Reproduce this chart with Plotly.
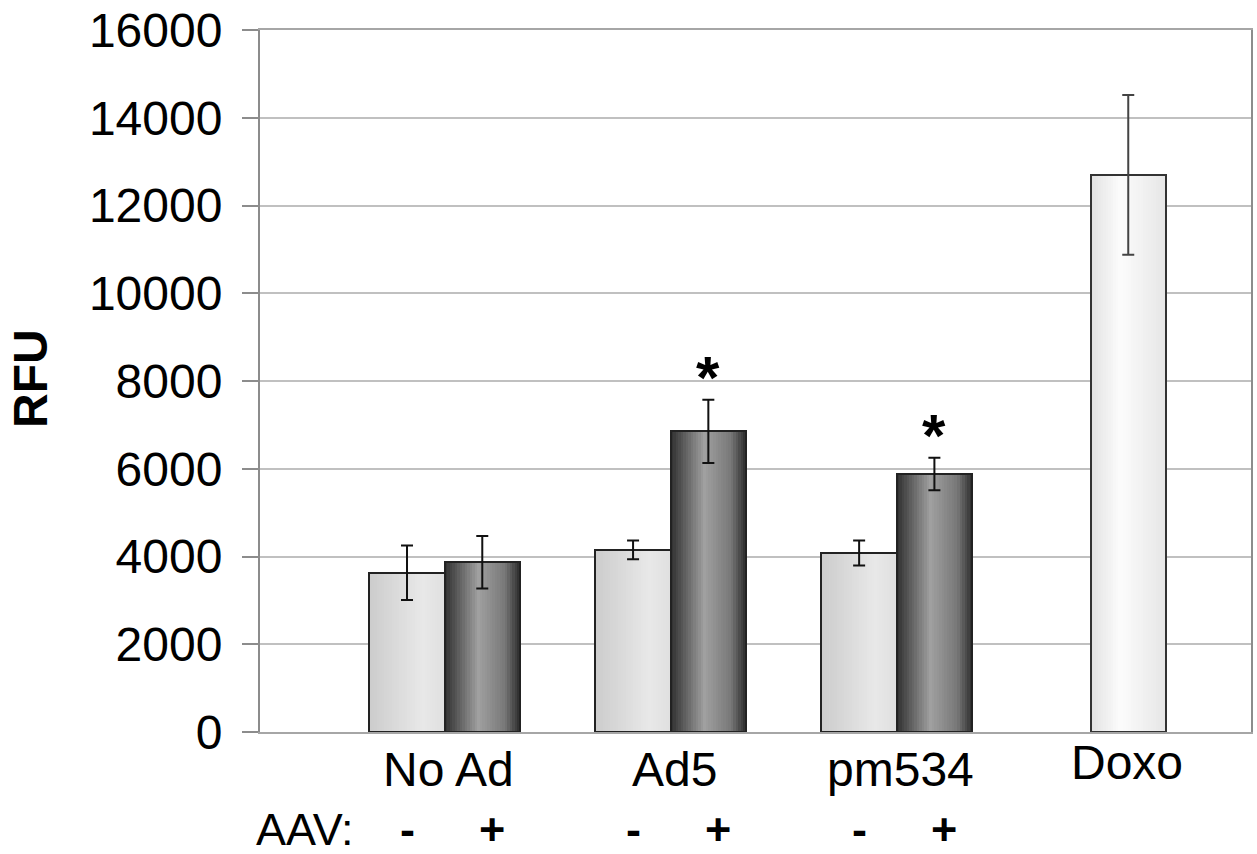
import plotly.graph_objects as go

# ---- data ----
groups = ["No Ad", "Ad5", "pm534"]
aav_minus = [3630, 4150, 4080]
aav_minus_err = [620, 215, 285]
aav_plus = [3870, 6850, 5880]
aav_plus_err = [600, 720, 370]
doxo_label = ["Doxo"]
doxo_val = [12700]
doxo_err = [1820]
all_cats = ["No Ad", "Ad5", "pm534", "Doxo"]
y_ticks = [0, 2000, 4000, 6000, 8000, 10000, 12000, 14000, 16000]
signif = ["Ad5", "pm534"]  # AAV+ bars marked with *

# ---- layout geometry ----
W, H = 1257, 854
L, R, T, B = 260, 4, 25, 122
plot_w = W - L - R
plot_h = H - T - B
FONT = "Arial, Liberation Sans, sans-serif"
bw = 0.333  # bar width in category units


def py2paper(py):
    return (H - B - py) / plot_h


def px2paper(px):
    return (px - L) / plot_w


def grad_color(stops, t):
    for (t0, g0), (t1, g1) in zip(stops, stops[1:]):
        if t0 <= t <= t1:
            g = g0 + (g1 - g0) * (t - t0) / (t1 - t0)
            g = int(round(g))
            return f"rgb({g},{g},{g})"
    g = stops[-1][1]
    return f"rgb({g},{g},{g})"


light_stops = [(0, 204), (0.7, 232), (1, 224)]
dark_stops = [(0, 48), (0.45, 160), (0.8, 120), (1, 45)]
doxo_stops = [(0, 226), (0.4, 252), (1, 230)]

fig = go.Figure()
N = 30


def add_gradient_bar(xs, ys, off0, stops):
    d = bw / N
    for i in range(N):
        t = (i + 0.5) / N
        wdt = d * 1.6 if i < N - 1 else d
        fig.add_trace(go.Bar(
            x=xs, y=ys, width=[wdt] * len(xs), offset=[off0 + i * d] * len(xs),
            marker=dict(color=grad_color(stops, t), line=dict(width=0)),
            showlegend=False, hoverinfo="skip"))


def add_outline(xs, ys, errs, off0, lc, ec):
    fig.add_trace(go.Bar(
        x=xs, y=ys, width=[bw] * len(xs), offset=[off0] * len(xs),
        marker=dict(color="rgba(0,0,0,0)", line=dict(color=lc, width=2)),
        error_y=dict(type="data", array=errs, visible=True, color=ec,
                     thickness=2, width=6),
        showlegend=False))


add_gradient_bar(groups, aav_minus, -bw, light_stops)
add_gradient_bar(groups, aav_plus, 0, dark_stops)
add_gradient_bar(doxo_label, doxo_val, -bw / 2 + 0.024, doxo_stops)
add_outline(groups, aav_minus, aav_minus_err, -bw, "#222222", "#111111")
add_outline(groups, aav_plus, aav_plus_err, 0, "#222222", "#111111")
add_outline(doxo_label, doxo_val, doxo_err, -bw / 2 + 0.024, "#333333", "#444444")

annotations = []
# category labels
for c in all_cats:
    ytop = 734 if c == "Doxo" else 741
    annotations.append(dict(
        x=c, xref="x", y=py2paper(ytop), yref="paper", yanchor="top",
        xanchor="center", text=c, showarrow=False, xshift=4,
        font=dict(family=FONT, size=48, color="black")))
# AAV row
annotations.append(dict(
    x=px2paper(305), xref="paper", y=py2paper(803), yref="paper", yanchor="top",
    xanchor="center", text="AAV:", showarrow=False,
    font=dict(family=FONT, size=45, color="black")))
for c in groups:
    annotations.append(dict(
        x=c, xref="x", xshift=-37, y=py2paper(803), yref="paper", yanchor="top",
        xanchor="center", text="<b>-</b>", showarrow=False,
        font=dict(family=FONT, size=45, color="black")))
    annotations.append(dict(
        x=c, xref="x", xshift=47, y=py2paper(803), yref="paper", yanchor="top",
        xanchor="center", text="<b>+</b>", showarrow=False,
        font=dict(family=FONT, size=45, color="black")))
# significance stars
for c in signif:
    i = groups.index(c)
    annotations.append(dict(
        x=c, xref="x", xshift=37, y=aav_plus[i] + aav_plus_err[i], yref="y",
        yanchor="bottom", xanchor="center", yshift=-13,
        text="<b>*</b>", showarrow=False,
        font=dict(family=FONT, size=60, color="black")))
# y title
annotations.append(dict(
    x=px2paper(30), xref="paper", y=py2paper(376), yref="paper",
    xanchor="center", yanchor="middle",
    text="<b>RFU</b>", textangle=-90, showarrow=False,
    font=dict(family=FONT, size=48, color="black")))

fig.update_layout(
    width=W, height=H,
    margin=dict(l=L, r=R, t=T, b=B),
    paper_bgcolor="white", plot_bgcolor="white",
    barmode="overlay", bargap=0,
    showlegend=False,
    annotations=annotations,
    xaxis=dict(
        type="category", categoryorder="array", categoryarray=all_cats,
        range=[-0.8168, 3.567], showticklabels=False, ticks="",
        showgrid=False, showline=True, linecolor="#a6a6a6", linewidth=2,
        mirror=True, zeroline=False, fixedrange=True),
    yaxis=dict(
        range=[0, 16000], tickvals=y_ticks, ticktext=[str(v) for v in y_ticks],
        showgrid=True, gridcolor="#c0c0c0", gridwidth=2,
        showline=True, linecolor="#8c8c8c", linewidth=2, mirror=True,
        ticks="outside", ticklen=16, tickcolor="#8c8c8c", tickwidth=2,
        ticklabelstandoff=10, ticklabeloverflow="allow",
        tickfont=dict(family=FONT, size=48, color="black"),
        zeroline=False, fixedrange=True),
)

fig.write_html(
    "out.html",
    config={"displayModeBar": False},
    post_script="document.body.style.margin='0';document.body.style.overflow='hidden';")
